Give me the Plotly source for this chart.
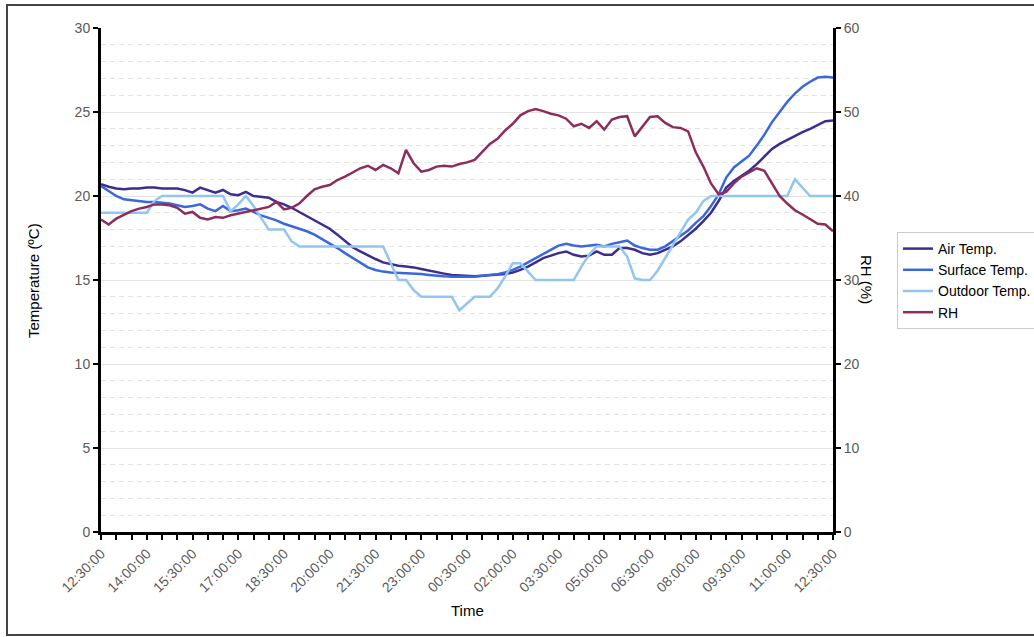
import pandas as pd
import plotly.graph_objects as go

# ---- data (15-minute samples from 12:30 to 12:30 next day) ----
start_time = "2000-01-01 12:30"
n_points = 97

air_temp = [20.7, 20.55, 20.45, 20.4, 20.45, 20.45, 20.5, 20.5, 20.45, 20.45,
            20.45, 20.35, 20.2, 20.5, 20.35, 20.2, 20.36, 20.1, 20.05, 20.25,
            20.0, 19.95, 19.9, 19.65, 19.5, 19.3, 19.05, 18.8, 18.6, 18.3,
            18.05, 17.7, 17.3, 16.95, 16.7, 16.45, 16.25, 16.05, 15.95, 15.85,
            15.8, 15.75, 15.65, 15.55, 15.45, 15.38, 15.3, 15.28, 15.25, 15.22,
            15.25, 15.28, 15.3, 15.35, 15.45, 15.6, 15.8, 16.05, 16.3, 16.45,
            16.6, 16.7, 16.5, 16.4, 16.45, 16.7, 16.5, 16.5, 16.9, 16.9,
            16.8, 16.6, 16.5, 16.6, 16.8, 17.0, 17.3, 17.65, 18.05, 18.5,
            19.0, 19.7, 20.5, 20.9, 21.2, 21.5, 21.9, 22.35, 22.8, 23.1,
            23.35, 23.6, 23.8, 24.0, 24.25, 24.45, 24.5]

surface_temp = [20.6, 20.3, 20.0, 19.8, 19.75, 19.7, 19.65, 19.65, 19.6, 19.55,
                19.45, 19.35, 19.4, 19.5, 19.25, 19.1, 19.4, 19.1, 19.15, 19.25,
                19.05, 18.85, 18.7, 18.55, 18.35, 18.2, 18.05, 17.9, 17.7, 17.45,
                17.2, 16.9, 16.6, 16.3, 16.0, 15.75, 15.6, 15.5, 15.45, 15.43,
                15.42, 15.4, 15.35, 15.3, 15.25, 15.22, 15.2, 15.2, 15.2, 15.2,
                15.25, 15.3, 15.35, 15.45, 15.6, 15.8, 16.05, 16.3, 16.6, 16.85,
                17.05, 17.15, 17.05, 17.0, 17.05, 17.1, 17.0, 17.15, 17.25, 17.35,
                17.05, 16.9, 16.8, 16.8, 17.0, 17.3, 17.6, 17.95, 18.4, 18.8,
                19.4, 20.1, 21.1, 21.7, 22.05, 22.4, 23.0, 23.65, 24.4, 25.0,
                25.6, 26.1, 26.5, 26.8, 27.05, 27.1, 27.05]

outdoor_temp = [19, 19, 19, 19, 19, 19, 19, 19.7, 20, 20,
                20, 20, 20, 20, 20, 20, 20, 19.1, 19.5, 20,
                19.4, 18.7, 18, 18, 18, 17.3, 17, 17, 17, 17,
                17, 17, 17, 17, 17, 17, 17, 17, 16, 15,
                15, 14.4, 14, 14, 14, 14, 14, 13.2, 13.6, 14,
                14, 14, 14.5, 15.2, 16, 16, 15.5, 15, 15, 15,
                15, 15, 15, 15.8, 16.5, 17, 17, 17, 17, 16.4,
                15.1, 15, 15, 15.55, 16.3, 17.1, 17.8, 18.6, 19, 19.7,
                20, 20, 20, 20, 20, 20, 20, 20, 20, 20,
                20, 21, 20.5, 20, 20, 20, 20]

rh = [37.2, 36.6, 37.3, 37.8, 38.2, 38.5, 38.7, 39.0, 39.0, 38.9,
      38.6, 37.9, 38.1, 37.4, 37.2, 37.5, 37.4, 37.7, 37.9, 38.1,
      38.3, 38.5, 38.7, 39.3, 38.4, 38.6, 39.1, 40.0, 40.8, 41.1,
      41.3, 41.9, 42.3, 42.8, 43.3, 43.6, 43.1, 43.7, 43.3, 42.7,
      45.5, 43.9, 42.9, 43.1, 43.5, 43.6, 43.5, 43.8, 44.0, 44.3,
      45.2, 46.2, 46.8, 47.8, 48.6, 49.6, 50.1, 50.35, 50.1, 49.8,
      49.6, 49.2, 48.3, 48.6, 48.1, 48.9, 47.9, 49.1, 49.4, 49.5,
      47.1, 48.2, 49.4, 49.5, 48.7, 48.2, 48.1, 47.7, 45.2, 43.5,
      41.5, 40.2, 40.5, 41.5, 42.3, 42.8, 43.3, 43.0, 41.5, 40.0,
      39.1, 38.3, 37.8, 37.2, 36.7, 36.6, 35.8]

series_names = ["Air Temp.", "Surface Temp.", "Outdoor Temp.", "RH"]
series_colors = ["#3b2e8c", "#3a67dc", "#92c5f0", "#8c2d5c"]

times = pd.date_range(start_time, periods=n_points, freq="15min")

fig = go.Figure()
for name, vals, col in zip(series_names[:3], [air_temp, surface_temp, outdoor_temp], series_colors[:3]):
    fig.add_trace(go.Scatter(x=times, y=vals, name=name, mode="lines",
                             line=dict(color=col, width=2.5)))
fig.add_trace(go.Scatter(x=times, y=rh, name=series_names[3], mode="lines", yaxis="y2",
                         line=dict(color=series_colors[3], width=2.5)))

FONT = "Liberation Sans, Arial, sans-serif"
xtick_font = dict(family=FONT, size=14, color="#5a5a5a")
ytick_font = dict(family=FONT, size=14, color="#5a5a5a")

fig.update_layout(
    template="none",
    width=1034, height=637,
    margin=dict(l=101, r=201, t=28, b=105),
    paper_bgcolor="white", plot_bgcolor="white",
    font=dict(family=FONT, size=13, color="black"),
    showlegend=True,
    xaxis=dict(
        type="date", automargin=False,
        range=[times[0], times[-1]],
        tick0=times[0], dtick=90 * 60 * 1000,
        tickformat="%H:%M:%S", tickangle=-45,
        showgrid=False, zeroline=False,
        showline=True, linecolor="black", linewidth=3,
        ticks="outside", ticklen=5, tickwidth=2, tickcolor="black",
        tickfont=xtick_font,
        minor=dict(dtick=30 * 60 * 1000, ticks="outside", ticklen=5, tickwidth=2,
                   tickcolor="black", showgrid=False),
    ),
    yaxis=dict(
        range=[0, 30], dtick=5, automargin=False,
        showline=True, linecolor="black", linewidth=3,
        ticks="outside", ticklen=5, tickwidth=2, tickcolor="black",
        tickfont=ytick_font, zeroline=False,
        showgrid=True, gridcolor="#e3e3e3", gridwidth=1,
        minor=dict(dtick=1, showgrid=True, gridcolor="#e3e3e3",
                   griddash="5px,4px", gridwidth=1),
    ),
    yaxis2=dict(
        range=[0, 60], dtick=10, overlaying="y", side="right", automargin=False,
        showline=True, linecolor="black", linewidth=3,
        ticks="outside", ticklen=5, tickwidth=2, tickcolor="black",
        tickfont=ytick_font, showgrid=False, zeroline=False,
    ),
    legend=dict(
        xref="container", yref="container",
        x=0.8675, y=0.6358, xanchor="left", yanchor="top",
        bgcolor="white", bordercolor="#cccccc", borderwidth=1,
        font=dict(family=FONT, size=14, color="black"),
        itemwidth=30, tracegroupgap=0,
    ),
    annotations=[
        dict(text="Temperature (ºC)", xref="paper", yref="paper", x=-0.0929, y=0.5,
             xanchor="center", yanchor="middle",
             showarrow=False, textangle=-90, font=dict(family=FONT, size=15, color="black")),
        dict(text="RH (%)", xref="paper", yref="paper", x=1.0464, y=0.5,
             xanchor="center", yanchor="middle",
             showarrow=False, textangle=90, font=dict(family=FONT, size=15, color="black")),
        dict(text="Time", xref="paper", yref="paper", x=0.5, y=-0.1567,
             xanchor="center", yanchor="middle",
             showarrow=False, font=dict(family=FONT, size=15, color="black")),
    ],
    shapes=[
        dict(type="rect", xref="paper", yref="paper", x0=-0.1284, x1=1.28,
             y0=-0.2044, y1=1.0456, line=dict(color="#444444", width=2),
             fillcolor="rgba(0,0,0,0)", layer="below"),
    ],
)

fig.write_html("out.html", config={"displayModeBar": False},
               post_script="document.body.style.margin='0px';document.body.style.padding='0px';")
